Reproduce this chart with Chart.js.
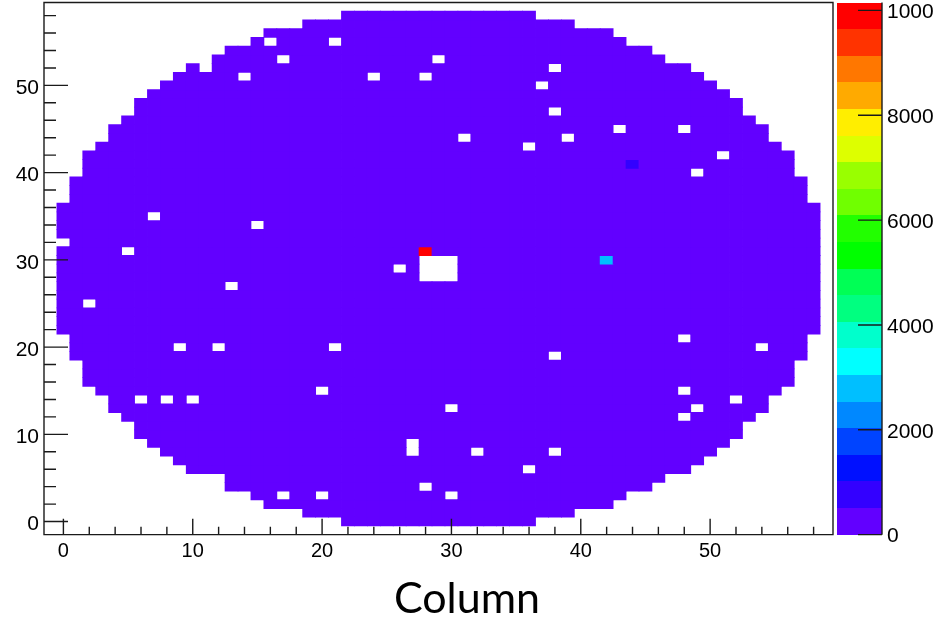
<!DOCTYPE html>
<html>
<head>
<meta charset="utf-8">
<title>Hit map</title>
<script src="https://cdn.jsdelivr.net/npm/chart.js@4.4.1/dist/chart.umd.min.js"></script>
<style>
  html, body { margin: 0; padding: 0; background: #fff; }
  #hitMap { display: block; }
</style>
</head>
<body>
<canvas id="hitMap" width="934" height="620"></canvas>
<script>
// Hit map of the detector face, counts per pixel (column, row)

// first and last live column in each row, rows 0..58
const rowFirstCol = [22, 19, 16, 15, 13, 13, 10, 9, 8, 7,
                     6, 6, 5, 4, 4, 3, 2, 2, 2, 1,
                     1, 1, 0, 0, 0, 0, 0, 0, 0, 0,
                     0, 0, 0, 0, 0, 0, 0, 1, 1, 1,
                     2, 2, 2, 3, 4, 4, 5, 6, 6, 7,
                     8, 9, 10, 12, 13, 15, 16, 19, 22];
const rowLastCol = [36, 39, 42, 43, 45, 46, 48, 49, 50, 51,
                    52, 52, 53, 54, 54, 55, 56, 56, 56, 57,
                    57, 57, 58, 58, 58, 58, 58, 58, 58, 58,
                    58, 58, 58, 58, 58, 58, 58, 57, 57, 57,
                    56, 56, 56, 55, 54, 54, 53, 52, 52, 51,
                    50, 49, 48, 46, 45, 43, 42, 39, 36];

// pixels with no entries (left white): [column, row]
const deadCells = [
  [16, 55], [21, 55], [17, 53], [29, 53], [11, 52], [38, 52],
  [14, 51], [24, 51], [28, 51], [37, 50], [38, 47], [43, 45], [48, 45],
  [31, 44], [39, 44], [36, 43], [51, 42], [49, 40], [7, 35], [15, 34],
  [0, 32], [5, 31], [28, 30], [29, 30], [30, 30], [26, 29], [28, 29],
  [29, 29], [30, 29], [28, 28], [29, 28], [30, 28], [13, 27], [2, 25],
  [48, 21], [9, 20], [12, 20], [21, 20], [54, 20], [38, 19], [20, 15],
  [48, 15], [6, 14], [8, 14], [10, 14], [52, 14], [30, 13], [49, 13],
  [48, 12], [27, 9], [27, 8], [32, 8], [38, 8], [36, 6], [28, 4],
  [17, 3], [20, 3], [30, 3]
];

// pixels that stand out from the flat background: [column, row, counts]
const hotCells = [[28, 31, 9670], [42, 30, 2800], [44, 41, 750]];

// counts in every other live pixel
const baseCounts = 250;

const colTicks = [0, 10, 20, 30, 40, 50];
const rowTicks = [0, 10, 20, 30, 40, 50];
const zTicks = [0, 2000, 4000, 6000, 8000, 10000];
const zMax = 10150;

// 20 contour colours, bottom to top
const palette = ['#6200ff', '#3300ff', '#0010ff', '#0044ff', '#0088ff',
                 '#00bfff', '#00ffff', '#00ffcc', '#00ff80', '#00ff55',
                 '#00ff00', '#22ff00', '#70ff00', '#99ff00', '#ddff00',
                 '#ffee00', '#ffaa00', '#ff7700', '#ff3300', '#ff0000'];

const cells = [];
rowFirstCol.forEach((first, row) => {
  for (let col = first; col <= rowLastCol[row]; col++) {
    if (deadCells.some(([c, r]) => c === col && r === row)) continue;
    const hot = hotCells.find(([c, r]) => c === col && r === row);
    cells.push({ x: col, y: [row - 0.5, row + 0.5], v: hot ? hot[2] : baseCounts });
  }
});

function colourFor(v) {
  const band = Math.min(palette.length - 1, Math.floor(v / (zMax / palette.length)));
  return palette[band];
}

const tickFont = { family: "'Liberation Sans', Arial, sans-serif", size: 21 };
const plainNumber = v => String(v);

// ROOT style frame, inward ticks and colour scale
const rootFrame = {
  id: 'rootFrame',
  afterDraw(chart) {
    const { ctx, chartArea: area } = chart;
    const { x, y, z } = chart.scales;
    ctx.save();

    const barLeft = z.left + 4;
    const barRight = z.left + 49;
    const band = zMax / palette.length;
    palette.forEach((colour, i) => {
      const lo = Math.round(z.getPixelForValue(i * band));
      const hi = Math.round(z.getPixelForValue((i + 1) * band));
      ctx.fillStyle = colour;
      ctx.fillRect(barLeft, hi, barRight - barLeft, lo - hi);
    });

    ctx.strokeStyle = '#1a1a1a';
    ctx.lineWidth = 1.4;
    ctx.beginPath();
    ctx.rect(area.left, area.top, area.right - area.left, area.bottom - area.top);

    for (let v = 0; v <= x.max; v += 2) {
      const px = x.getPixelForValue(v);
      ctx.moveTo(px, area.bottom);
      ctx.lineTo(px, area.bottom - (colTicks.includes(v) ? 16 : 8));
    }
    for (let v = 0; v <= y.max; v += 2) {
      const py = y.getPixelForValue(v);
      ctx.moveTo(area.left, py);
      ctx.lineTo(area.left + (rowTicks.includes(v) ? 24 : 12), py);
    }

    ctx.moveTo(barRight, z.top);
    ctx.lineTo(barRight, z.bottom);
    zTicks.forEach(v => {
      const py = z.getPixelForValue(v);
      ctx.moveTo(barRight - 24, py);
      ctx.lineTo(barRight, py);
    });
    ctx.stroke();
    ctx.restore();
  }
};

new Chart(document.getElementById('hitMap'), {
  type: 'bar',
  data: {
    datasets: [{
      data: cells,
      backgroundColor: c => colourFor(c.raw.v),
      borderWidth: 0,
      categoryPercentage: 1,
      barPercentage: 1,
      inflateAmount: 0.4
    }]
  },
  options: {
    responsive: false,
    devicePixelRatio: 1,
    animation: false,
    events: [],
    layout: { padding: { top: 2.5, left: 0, right: 0, bottom: 0 } },
    scales: {
      x: {
        type: 'linear',
        min: -1.5,
        max: 59.5,
        offset: false,
        grid: { display: false, drawTicks: false },
        border: { display: false },
        ticks: { font: { ...tickFont, size: 20 }, color: '#000', padding: 5, maxRotation: 0, callback: plainNumber },
        afterBuildTicks: axis => { axis.ticks = colTicks.map(v => ({ value: v })); },
        afterFit: axis => { axis.height = 44.5; axis.paddingLeft = 0; axis.paddingRight = 0; }
      },
      y: {
        type: 'linear',
        min: -1.5,
        max: 59.5,
        grid: { display: false, drawTicks: false },
        border: { display: false },
        ticks: { font: tickFont, color: '#000', padding: 5, labelOffset: 3, callback: plainNumber },
        afterBuildTicks: axis => { axis.ticks = rowTicks.map(v => ({ value: v })); },
        afterFit: axis => { axis.width = 44; axis.paddingTop = 0; axis.paddingBottom = 0; }
      },
      z: {
        type: 'linear',
        position: 'right',
        min: 0,
        max: zMax,
        grid: { display: false, drawTicks: false },
        border: { display: false },
        ticks: { font: tickFont, color: '#000', padding: 54, labelOffset: 2, callback: plainNumber },
        afterBuildTicks: axis => { axis.ticks = zTicks.map(v => ({ value: v })); },
        afterFit: axis => { axis.width = 101; axis.paddingTop = 0; axis.paddingBottom = 0; }
      }
    },
    plugins: {
      legend: { display: false },
      tooltip: { enabled: false },
      title: {
        display: true,
        position: 'bottom',
        text: 'Column',
        color: '#000',
        padding: 0,
        font: { family: 'Lato, "Open Sans", sans-serif', size: 43, weight: 'normal', lineHeight: 0.95 }
      }
    }
  },
  plugins: [rootFrame]
});
</script>
</body>
</html>
